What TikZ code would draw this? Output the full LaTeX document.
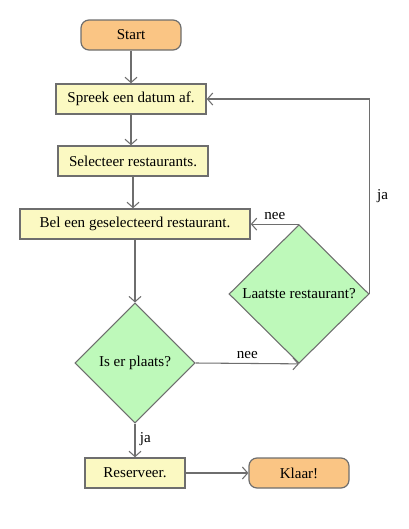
\documentclass[tikz,border=0pt]{standalone}
\usepackage{fontspec}
\setmainfont{Liberation Serif}
\usetikzlibrary{arrows.meta,shapes.geometric,positioning}
\definecolor{startorange}{HTML}{FAC584}
\definecolor{stepyellow}{HTML}{FBF9C2}
\definecolor{askgreen}{HTML}{BEF9BA}
\definecolor{edgegray}{HTML}{6E6E6E}

\begin{document}
\begin{tikzpicture}[x=0.75pt,y=-0.75pt,
  font=\fontsize{11.3}{13}\selectfont,
  term/.style={draw=edgegray, line width=0.9pt, fill=startorange, rounded corners=6pt, minimum width=75pt, minimum height=22.5pt},
  stepbox/.style={draw=edgegray, line width=1.1pt, fill=stepyellow, minimum height=22.5pt},
  ask/.style={diamond, draw=edgegray, line width=0.8pt, fill=askgreen, inner sep=0pt, aspect=1},
  flow/.style={draw=edgegray, line width=0.8pt, -{Straight Barb[length=4pt,width=9pt]}}]
\useasboundingbox (0,0) rectangle (409,529);
% Terminals and steps
\node[term] (start) at (131,35) {Start};
\node[stepbox, minimum width=112.5pt] (datum) at (131,99) {Spreek een datum af.};
\node[stepbox, minimum width=112.5pt] (select) at (133,161) {Selecteer restaurants.};
\node[stepbox, minimum width=172.5pt] (bel) at (135,224) {Bel een geselecteerd restaurant.};
% Decisions
\node[ask, minimum width=90pt, minimum height=90pt] (plaats) at (135,363) {Is er plaats?};
\node[ask, minimum width=105pt, minimum height=104pt] (laatste) at (299,294) {Laatste restaurant?};
\node[stepbox, minimum width=75pt] (reserveer) at (135,473) {Reserveer.};
\node[term] (klaar) at (299,473) {Klaar!};
% Main flow
\draw[flow] (start) -- (datum);
\draw[flow] (datum) -- (datum|-select.north);
\draw[flow] (select) -- (select|-bel.north);
\draw[flow] (bel) -- (plaats);
\draw[flow] (plaats) -- node[right, pos=0.45] {ja} (reserveer);
\draw[flow] (reserveer) -- (klaar);
% Loop back
\draw[flow] (plaats.east) -- node[above] {nee} (laatste.south);
\draw[flow] (laatste.north) -- node[above] {nee} (laatste.north -| bel.east);
\draw[flow] (laatste.east) |- node[right, pos=0.25, xshift=2pt] {ja} (datum.east);
\end{tikzpicture}
\end{document}
